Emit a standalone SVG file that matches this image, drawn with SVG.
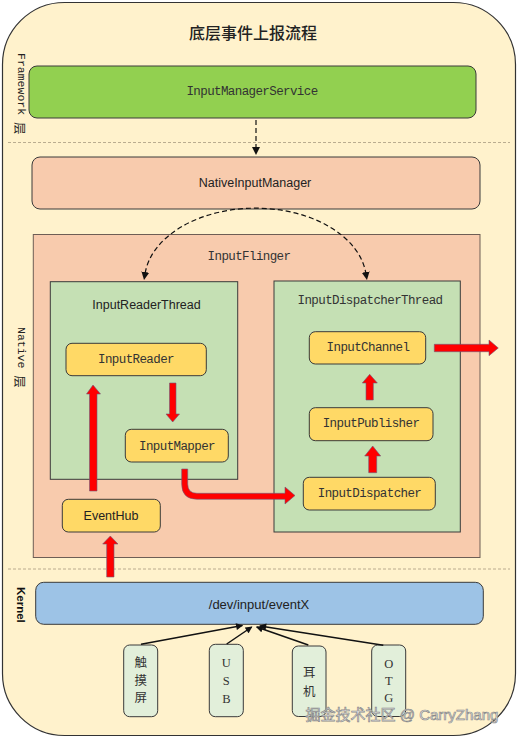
<svg xmlns="http://www.w3.org/2000/svg" width="519" height="739" viewBox="0 0 519 739">
<style>
.box{stroke:#3a3a3a;stroke-width:1}
.mono{font-family:"Liberation Mono","DejaVu Sans Mono",monospace;font-size:12.5px;letter-spacing:-0.6px;fill:#333;text-anchor:middle;dominant-baseline:central}
.sans{font-family:"Liberation Sans",Arial,sans-serif;font-size:12.5px;fill:#222;text-anchor:middle;dominant-baseline:central}
.cjk{font-family:"Liberation Serif","Noto Sans CJK SC",serif;font-size:12.5px;fill:#333;text-anchor:middle;dominant-baseline:central}
.sep{stroke:#a89a80;stroke-width:0.8;stroke-dasharray:3,2;fill:none}
.dash{stroke:#111;stroke-width:1.2;stroke-dasharray:5,3;fill:none}
.red{fill:#ff0000;stroke:#6d5a7a;stroke-width:0.6}
.blk{stroke:#111;stroke-width:1.5;fill:none}
</style>
<defs>
<marker id="ah" viewBox="0 0 8 8" refX="1" refY="4" markerWidth="8" markerHeight="8" markerUnits="userSpaceOnUse" orient="auto-start-reverse"><path d="M0,0 L8,4 L0,8 z" fill="#111"/></marker>
<marker id="bh" viewBox="0 0 8 8" refX="7" refY="4" markerWidth="8" markerHeight="7" markerUnits="userSpaceOnUse" orient="auto"><path d="M0,0 L8,4 L0,8 z" fill="#111"/></marker>
</defs>
<g id="background">
<rect x="2.5" y="2.5" width="513" height="733" rx="62" ry="62" fill="#fff2cc" stroke="#333" stroke-width="1.2"/>
<text x="253" y="32" style="font-family:'Noto Sans CJK SC',sans-serif;font-size:16px;font-weight:500;fill:#222;text-anchor:middle;dominant-baseline:central">底层事件上报流程</text>
<line class="sep" x1="8" y1="142.5" x2="510" y2="142.5"/>
<line class="sep" x1="8" y1="569" x2="510" y2="569"/>
<text x="21" y="53" transform="rotate(90 21 53)" style="font-family:'Liberation Mono','Noto Sans CJK SC',monospace;font-size:11.5px;fill:#222;dominant-baseline:central">Framework <tspan style="font-family:'Noto Sans CJK SC',sans-serif;font-size:12.5px">层</tspan></text>
<text x="21" y="327" transform="rotate(90 21 327)" style="font-family:'Liberation Mono','Noto Sans CJK SC',monospace;font-size:11.5px;fill:#222;dominant-baseline:central">Native <tspan style="font-family:'Noto Sans CJK SC',sans-serif;font-size:12.5px">层</tspan></text>
<text x="21" y="587" transform="rotate(90 21 587)" style="font-family:'Liberation Sans',Arial,sans-serif;font-size:11.5px;font-weight:bold;fill:#111;dominant-baseline:central">Kernel</text>
</g>
<g id="InputManagerService">
<rect class="box" x="29" y="66" width="447" height="52" rx="8" fill="#92d050"/>
<text class="mono" x="252" y="92">InputManagerService</text>
</g>
<g id="NativeInputManager">
<rect class="box" x="32" y="157" width="448" height="52" rx="8" fill="#f8cbad"/>
<text class="sans" x="255" y="183">NativeInputManager</text>
</g>
<g id="InputFlinger">
<rect x="33.3" y="234.5" width="446.7" height="323" fill="#f8cbad" stroke="#6e5e55" stroke-width="1"/>
<text class="mono" x="249" y="257">InputFlinger</text>
</g>
<g id="InputReaderThread">
<rect class="box" x="50.3" y="281.7" width="187.4" height="197.6" fill="#c5e0b4"/>
<text class="sans" x="146.5" y="305">InputReaderThread</text>
</g>
<g id="InputDispatcherThread">
<rect class="box" x="274" y="281" width="186.3" height="251" fill="#c5e0b4"/>
<text class="mono" x="370" y="301">InputDispatcherThread</text>
</g>
<g id="InputReader">
<rect class="box" x="66" y="343.3" width="140.3" height="32.4" rx="6" fill="#ffd966"/>
<text class="mono" x="136" y="360">InputReader</text>
</g>
<g id="InputMapper">
<rect class="box" x="125.3" y="429.3" width="103" height="32.7" rx="6" fill="#ffd966"/>
<text class="mono" x="177" y="446.5">InputMapper</text>
</g>
<g id="InputChannel">
<rect class="box" x="309.3" y="331.7" width="116.4" height="32.3" rx="6" fill="#ffd966"/>
<text class="mono" x="368" y="348">InputChannel</text>
</g>
<g id="InputPublisher">
<rect class="box" x="309.3" y="407.7" width="123.7" height="33" rx="6" fill="#ffd966"/>
<text class="mono" x="371" y="424">InputPublisher</text>
</g>
<g id="InputDispatcher">
<rect class="box" x="303.3" y="477.3" width="132" height="32.7" rx="6" fill="#ffd966"/>
<text class="mono" x="369.5" y="494">InputDispatcher</text>
</g>
<g id="EventHub">
<rect class="box" x="62.3" y="499.3" width="98" height="32.7" rx="6" fill="#ffd966"/>
<text class="sans" x="111" y="516">EventHub</text>
</g>
<g id="eventX">
<rect class="box" x="35.7" y="582.3" width="447.6" height="42" rx="8" fill="#9dc3e6"/>
<text class="sans" x="259" y="604" style="font-size:13px">/dev/input/eventX</text>
</g>
<g id="touchscreen">
<rect class="box" x="123.7" y="645" width="34" height="71.7" rx="6" fill="#e2efda"/>
<text class="cjk" x="140.7" y="663">触</text>
<text class="cjk" x="140.7" y="681">摸</text>
<text class="cjk" x="140.7" y="698">屏</text>
</g>
<g id="usb">
<rect class="box" x="209.3" y="644.3" width="34" height="72.4" rx="6" fill="#e2efda"/>
<text class="cjk" x="226.3" y="663">U</text>
<text class="cjk" x="226.3" y="681">S</text>
<text class="cjk" x="226.3" y="699">B</text>
</g>
<g id="headset">
<rect class="box" x="292.3" y="646" width="33.7" height="70.5" rx="6" fill="#e2efda"/>
<text class="cjk" x="309.2" y="673">耳</text>
<text class="cjk" x="309.2" y="692">机</text>
</g>
<g id="otg">
<rect class="box" x="371.7" y="645" width="34" height="71.5" rx="6" fill="#e2efda"/>
<text class="cjk" x="388.7" y="663.5">O</text>
<text class="cjk" x="388.7" y="681">T</text>
<text class="cjk" x="388.7" y="697.5">G</text>
</g>
<g id="connectors">
<path class="dash" d="M256,120 V148" marker-end="url(#ah)"/>
<path class="dash" d="M145.2,273 A111,73 0 0 1 365.8,273" marker-start="url(#ah)" marker-end="url(#ah)"/>
<polygon class="red" points="89.5,491 89.5,394 86.5,394 93,385 100.5,394 97,394 97,491"/>
<polygon class="red" points="169.5,383 176,383 176,414 179.5,414 172.7,422 166,414 169.5,414"/>
<polygon class="red" points="106.7,577 106.7,544 102.7,544 110.3,536 118,544 114,544 114,577"/>
<path class="red" d="M181.7,469 L181.7,484 Q181.7,499.3 197,499.3 L285,499.3 L285,504 L295,495.5 L285,487 L285,493.3 L197,493.3 Q187.7,493.3 187.7,484 L187.7,469 Z"/>
<polygon class="red" points="366,400 366,383 362.3,383 369.7,374.3 377.3,383 373.3,383 373.3,400"/>
<polygon class="red" points="368.7,472.7 368.7,456 364.7,456 372.7,446 380.7,456 376.7,456 376.7,472.7"/>
<polygon class="red" points="434.3,344.3 489,344.3 489,340 498.3,348 489,355.7 489,351.7 434.3,351.7"/>
<line class="blk" x1="141" y1="644.3" x2="242.3" y2="625.5" marker-end="url(#bh)"/>
<line class="blk" x1="226.7" y1="644" x2="251.7" y2="627" marker-end="url(#bh)"/>
<line class="blk" x1="308.3" y1="645" x2="256.7" y2="627" marker-end="url(#bh)"/>
<line class="blk" x1="383.3" y1="645.3" x2="260" y2="626" marker-end="url(#bh)"/>
</g>
<g id="watermark">
<text x="402" y="714" style="font-family:'Liberation Sans','Noto Sans CJK SC',sans-serif;font-size:15px;fill:#f4f4f4;stroke:#8a8a8a;stroke-width:0.7;text-anchor:middle;dominant-baseline:central">掘金技术社区 @ CarryZhang</text>
</g>
</svg>
